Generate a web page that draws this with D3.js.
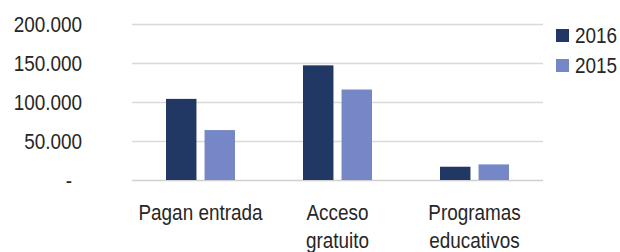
<!DOCTYPE html>
<html>
<head>
<meta charset="utf-8">
<script src="https://cdn.jsdelivr.net/npm/d3@7"></script>
<style>
  body { margin: 0; background: #fff; }
  svg text { font-family: "Liberation Sans", Arial, sans-serif; fill: #262626; font-size: 22px; }
</style>
</head>
<body>
<svg id="chart" width="620" height="252"></svg>
<script>
// data
var categories = [["Pagan entrada"], ["Acceso", "gratuito"], ["Programas", "educativos"]];
var years = ["2016", "2015"];
var values2016 = [104000, 147000, 17000];
var values2015 = [64000, 116000, 20000];
var yTicks = [0, 50000, 100000, 150000, 200000];
var yTickLabels = ["-", "50.000", "100.000", "150.000", "200.000"];
var colors = ["#213864", "#7587c6"];

var narrow = 0.86; // reference font is a condensed face

var svg = d3.select("#chart");
var margin = {top: 24, left: 132, right: 77, bottom: 72};
var width = 620 - margin.left - margin.right,
    height = 252 - margin.top - margin.bottom;

var g = svg.append("g").attr("transform", "translate(" + margin.left + "," + margin.top + ")");

var x = d3.scaleBand().domain(d3.range(categories.length)).range([0, width]).padding(0);
var xs = d3.scaleBand().domain(years).range([34, x.bandwidth() - 34]).paddingInner(0.21);
var y = d3.scaleLinear().domain([0, 200000]).range([height, 0]);

// gridlines
g.selectAll(".grid").data(yTicks).enter().append("line")
    .attr("x1", 0).attr("x2", width)
    .attr("y1", function(d) { return Math.round(y(d)) + 0.5; })
    .attr("y2", function(d) { return Math.round(y(d)) + 0.5; })
    .style("stroke", function(d) { return d === 0 ? "#d0d0d0" : "#d9d9d9"; })
    .style("stroke-width", 1.3);

// y labels
g.selectAll(".ylab").data(yTicks).enter().append("text")
    .attr("transform", function(d) {
        return "translate(" + (d === 0 ? -60 : -50) + "," + y(d) + ") scale(" + narrow + ",1)";
    })
    .attr("dy", "0.36em")
    .attr("text-anchor", "end")
    .text(function(d, i) { return yTickLabels[i]; });

// bars
var series = [values2016, values2015];
categories.forEach(function(c, i) {
    years.forEach(function(yr, j) {
        g.append("rect")
            .attr("x", x(i) + xs(yr))
            .attr("y", y(series[j][i]))
            .attr("width", xs.bandwidth())
            .attr("height", height - y(series[j][i]))
            .style("fill", colors[j]);
    });
});

// category labels
var cl = g.selectAll(".xlab").data(categories).enter().append("text")
    .attr("text-anchor", "middle")
    .attr("transform", function(d, i) {
        return "translate(" + (x(i) + x.bandwidth() / 2) + "," + (height + 40) + ") scale(" + narrow + ",1)";
    });
cl.selectAll("tspan").data(function(d) { return d; }).enter().append("tspan")
    .attr("x", 0)
    .attr("dy", function(d, i) { return i === 0 ? 0 : 28; })
    .text(function(d) { return d; });

// legend
var leg = svg.append("g").attr("transform", "translate(556,28)");
years.forEach(function(yr, j) {
    leg.append("rect").attr("x", 0).attr("y", j * 30 + 1).attr("width", 13).attr("height", 13).style("fill", colors[j]);
    leg.append("text")
        .attr("transform", "translate(19," + (j * 30 + 7.5) + ") scale(" + narrow + ",1)")
        .attr("dy", "0.36em")
        .text(yr);
});
</script>
</body>
</html>
